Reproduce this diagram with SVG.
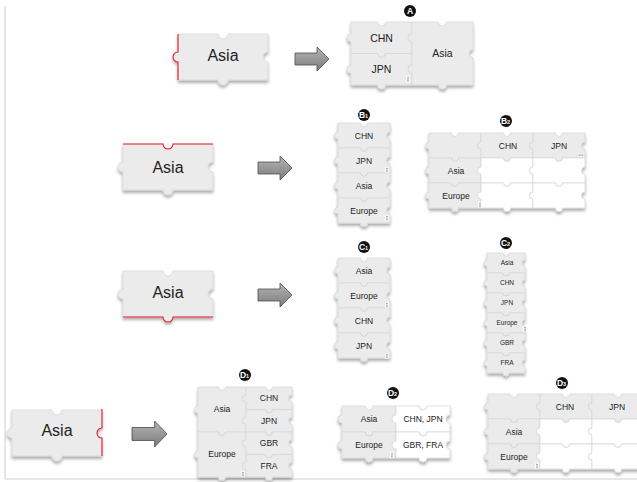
<svg xmlns="http://www.w3.org/2000/svg" xmlns:xlink="http://www.w3.org/1999/xlink" width="637" height="482" viewBox="0 0 637 482">
  <style>
    .g { fill: #ebebeb; stroke: #d6d6d6; stroke-width: 0.7; }
    .w { fill: #ffffff; stroke: #d6d6d6; stroke-width: 0.7; }
    .red { fill: none; stroke: #e8192c; stroke-width: 1.1; }
    .t { font-family: "Liberation Sans", Arial, sans-serif; fill: #222; text-anchor: middle; }
    .big { font-size: 16px; }
    .a { font-size: 10.5px; }
    .s { font-size: 8.5px; }
    .xs { font-size: 6.5px; }
    .badge { fill: #111; }
    .bt { font-family: "Liberation Sans", Arial, sans-serif; font-weight: bold; font-size: 8.5px; fill: #fff; text-anchor: middle; }
    .dot { fill: #333; }
    .arrow { fill: url(#arrowGrad); stroke: #4d4d4d; stroke-width: 0.8; }
    .frame { stroke: #cfcfcf; stroke-width: 1; fill: none; }
  </style>
  <defs>
    <filter id="shadow" x="-10%" y="-10%" width="120%" height="130%">
      <feDropShadow dx="0" dy="2.5" stdDeviation="1.4" flood-color="#000" flood-opacity="0.34"/>
    </filter>
    <linearGradient id="arrowGrad" x1="0" y1="0" x2="0" y2="1">
      <stop offset="0" stop-color="#b4b4b4"/>
      <stop offset="1" stop-color="#7c7c7c"/>
    </linearGradient>
    <!-- puzzle pieces: notch on top and right, tab on bottom and left -->
    <path id="pBig" d="M0 0 H40 A5 5 0 0 0 50 0 H90 V18 A5 5 0 0 0 90 28 V46 H50 A5 5 0 0 1 40 46 H0 V28 A5 5 0 0 1 0 18 Z"/>
    <path id="p52" d="M0 0 H22.5 A3.5 3.5 0 0 0 29.5 0 H52 V9 A3.5 3.5 0 0 0 52 16 V25 H29.5 A3.5 3.5 0 0 1 22.5 25 H0 V16 A3.5 3.5 0 0 1 0 9 Z"/>
    <path id="p61" d="M0 0 H26.5 A4 4 0 0 0 34.5 0 H61 V11.75 A4 4 0 0 0 61 19.75 V31.5 H34.5 A4 4 0 0 1 26.5 31.5 H0 V19.75 A4 4 0 0 1 0 11.75 Z"/>
    <path id="p61m" d="M0 0 H26.5 A4 4 0 0 0 34.5 0 H61 V27.5 A4 4 0 0 0 61 35.5 V63 H34.5 A4 4 0 0 1 26.5 63 H0 V51.25 A4 4 0 0 1 0 43.25 V19.75 A4 4 0 0 1 0 11.75 Z"/>
    <path id="p38" d="M0 0 H16 A3 3 0 0 0 22 0 H38 V7 A3 3 0 0 0 38 13 V20 H22 A3 3 0 0 1 16 20 H0 V13 A3 3 0 0 1 0 7 Z"/>
    <path id="p46" d="M0 0 H19.5 A3.5 3.5 0 0 0 26.5 0 H46 V7.75 A3.5 3.5 0 0 0 46 14.75 V22.5 H26.5 A3.5 3.5 0 0 1 19.5 22.5 H0 V14.75 A3.5 3.5 0 0 1 0 7.75 Z"/>
    <path id="p48m" d="M0 0 H20.5 A3.5 3.5 0 0 0 27.5 0 H48 V7.75 A3.5 3.5 0 0 0 48 14.75 V30.25 A3.5 3.5 0 0 0 48 37.25 V45 H27.5 A3.5 3.5 0 0 1 20.5 45 H0 V26 A3.5 3.5 0 0 1 0 19 Z"/>
    <path id="p54" d="M0 0 H23 A4 4 0 0 0 31 0 H54 V9 A4 4 0 0 0 54 17 V26 H31 A4 4 0 0 1 23 26 H0 V17 A4 4 0 0 1 0 9 Z"/>
    <path id="arr" d="M0 6 H22 V0 L34 12 L22 24 V18 H0 Z"/>
    <g id="vdots">
      <rect x="-1.8" y="-3" width="3.6" height="6" fill="#fff"/>
      <circle cx="0" cy="-1.8" r="0.55" class="dot"/>
      <circle cx="0" cy="0" r="0.55" class="dot"/>
      <circle cx="0" cy="1.8" r="0.55" class="dot"/>
    </g>
  </defs>

  <!-- page frame -->
  <path class="frame" d="M5 6 V479 H637"/>

  <!-- row A -->
  <g id="pieceA">
    <use xlink:href="#pBig" class="g" x="178" y="34" filter="url(#shadow)"/>
    <path class="red" transform="translate(178,34)" d="M0 0 V18 A5 5 0 0 0 0 28 V46"/>
    <text class="t big" x="223" y="60.5">Asia</text>
  </g>
  <g id="blockA">
    <g filter="url(#shadow)">
      <use xlink:href="#p61" class="g" x="351" y="22"/>
      <use xlink:href="#p61" class="g" x="351" y="53.5"/>
      <use xlink:href="#p61m" class="g" x="412" y="22"/>
    </g>
    <text class="t a" x="381.5" y="41.5">CHN</text>
    <text class="t a" x="381.5" y="73">JPN</text>
    <text class="t a" x="442.5" y="57">Asia</text>
    <use xlink:href="#vdots" x="408" y="79"/>
    <circle class="badge" cx="410" cy="11" r="6"/>
    <text class="bt" x="410" y="14">A</text>
  </g>

  <!-- row B -->
  <g id="pieceB">
    <use xlink:href="#pBig" class="g" x="123" y="144" filter="url(#shadow)"/>
    <path class="red" transform="translate(123,144)" d="M0 0 H40 A5 5 0 0 0 50 0 H90"/>
    <text class="t big" x="168" y="172.5">Asia</text>
  </g>
  <g id="blockB1">
    <g filter="url(#shadow)">
      <use xlink:href="#p52" class="g" x="338" y="123"/>
      <use xlink:href="#p52" class="g" x="338" y="148"/>
      <use xlink:href="#p52" class="g" x="338" y="173"/>
      <use xlink:href="#p52" class="g" x="338" y="198"/>
    </g>
    <text class="t s" x="364" y="138.5">CHN</text>
    <text class="t s" x="364" y="163.5">JPN</text>
    <text class="t s" x="364" y="188.5">Asia</text>
    <text class="t s" x="364" y="213.5">Europe</text>
    <use xlink:href="#vdots" x="387" y="170"/>
    <use xlink:href="#vdots" x="387" y="218"/>
    <circle class="badge" cx="364" cy="115" r="6"/>
    <text class="bt" x="363.5" y="118">B<tspan font-size="5.5">1</tspan></text>
  </g>
  <g id="blockB2">
    <g filter="url(#shadow)">
      <use xlink:href="#p52" class="g" x="429" y="133"/>
      <use xlink:href="#p52" class="g" x="481" y="133"/>
      <use xlink:href="#p52" class="g" x="533" y="133"/>
      <use xlink:href="#p52" class="g" x="429" y="158"/>
      <use xlink:href="#p52" class="w" x="481" y="158"/>
      <use xlink:href="#p52" class="w" x="533" y="158"/>
      <use xlink:href="#p52" class="g" x="429" y="183"/>
      <use xlink:href="#p52" class="w" x="481" y="183"/>
      <use xlink:href="#p52" class="w" x="533" y="183"/>
    </g>
    <text class="t s" x="508" y="148.5">CHN</text>
    <text class="t s" x="559" y="148.5">JPN</text>
    <text class="t s" x="456" y="173.5">Asia</text>
    <text class="t s" x="456" y="198.5">Europe</text>
    <g transform="translate(581,155)">
      <rect x="-3" y="-1.5" width="6" height="3" fill="#fff"/>
      <circle cx="-1.8" cy="0" r="0.55" class="dot"/>
      <circle cx="0" cy="0" r="0.55" class="dot"/>
      <circle cx="1.8" cy="0" r="0.55" class="dot"/>
    </g>
    <use xlink:href="#vdots" x="480" y="205"/>
    <circle class="badge" cx="506" cy="121" r="6"/>
    <text class="bt" x="505.5" y="124">B<tspan font-size="5.5">2</tspan></text>
  </g>

  <!-- row C -->
  <g id="pieceC">
    <use xlink:href="#pBig" class="g" x="123" y="271" filter="url(#shadow)"/>
    <path class="red" transform="translate(123,271)" d="M0 46 H40 A5 5 0 0 0 50 46 H90"/>
    <text class="t big" x="168" y="297.5">Asia</text>
  </g>
  <g id="blockC1">
    <g filter="url(#shadow)">
      <use xlink:href="#p52" class="g" x="338" y="258"/>
      <use xlink:href="#p52" class="g" x="338" y="283"/>
      <use xlink:href="#p52" class="g" x="338" y="308"/>
      <use xlink:href="#p52" class="g" x="338" y="333"/>
    </g>
    <text class="t s" x="364" y="273.5">Asia</text>
    <text class="t s" x="364" y="298.5">Europe</text>
    <text class="t s" x="364" y="323.5">CHN</text>
    <text class="t s" x="364" y="348.5">JPN</text>
    <use xlink:href="#vdots" x="387" y="305"/>
    <use xlink:href="#vdots" x="387" y="356"/>
    <circle class="badge" cx="364" cy="247" r="6"/>
    <text class="bt" x="363.5" y="250">C<tspan font-size="5.5">1</tspan></text>
  </g>
  <g id="blockC2">
    <g filter="url(#shadow)">
      <use xlink:href="#p38" class="g" x="487" y="253"/>
      <use xlink:href="#p38" class="g" x="487" y="273"/>
      <use xlink:href="#p38" class="g" x="487" y="293"/>
      <use xlink:href="#p38" class="g" x="487" y="313"/>
      <use xlink:href="#p38" class="g" x="487" y="333"/>
      <use xlink:href="#p38" class="g" x="487" y="353"/>
    </g>
    <text class="t xs" x="507" y="265.3">Asia</text>
    <text class="t xs" x="507" y="285.3">CHN</text>
    <text class="t xs" x="507" y="305.3">JPN</text>
    <text class="t xs" x="507" y="325.3">Europe</text>
    <text class="t xs" x="507" y="345.3">GBR</text>
    <text class="t xs" x="507" y="365.3">FRA</text>
    <use xlink:href="#vdots" x="525" y="329"/>
    <circle class="badge" cx="506" cy="243" r="6"/>
    <text class="bt" x="505.5" y="246">C<tspan font-size="5.5">2</tspan></text>
  </g>

  <!-- row D -->
  <g id="pieceD">
    <use xlink:href="#pBig" class="g" x="12" y="410" filter="url(#shadow)"/>
    <path class="red" transform="translate(12,410)" d="M90 -1 V18 A5 5 0 0 0 90 28 V46"/>
    <text class="t big" x="57" y="436">Asia</text>
  </g>
  <g id="blockD1">
    <g filter="url(#shadow)">
      <use xlink:href="#p48m" class="g" x="198" y="387"/>
      <use xlink:href="#p48m" class="g" x="198" y="432"/>
      <use xlink:href="#p46" class="g" x="246" y="387"/>
      <use xlink:href="#p46" class="g" x="246" y="409.5"/>
      <use xlink:href="#p46" class="g" x="246" y="432"/>
      <use xlink:href="#p46" class="g" x="246" y="454.5"/>
    </g>
    <text class="t s" x="222" y="411.5">Asia</text>
    <text class="t s" x="222" y="456.5">Europe</text>
    <text class="t s" x="269" y="401">CHN</text>
    <text class="t s" x="269" y="423.5">JPN</text>
    <text class="t s" x="269" y="446">GBR</text>
    <text class="t s" x="269" y="468.5">FRA</text>
    <use xlink:href="#vdots" x="243" y="474"/>
    <circle class="badge" cx="245" cy="375" r="6"/>
    <text class="bt" x="244.5" y="378">D<tspan font-size="5.5">1</tspan></text>
  </g>
  <g id="blockD2">
    <g filter="url(#shadow)">
      <use xlink:href="#p54" class="g" x="342" y="406"/>
      <use xlink:href="#p54" class="w" x="396" y="406"/>
      <use xlink:href="#p54" class="g" x="342" y="432"/>
      <use xlink:href="#p54" class="w" x="396" y="432"/>
    </g>
    <text class="t s" x="369" y="422">Asia</text>
    <text class="t s" x="423" y="422">CHN, JPN</text>
    <text class="t s" x="369" y="448">Europe</text>
    <text class="t s" x="423" y="448">GBR, FRA</text>
    <use xlink:href="#vdots" x="392" y="455"/>
    <circle class="badge" cx="393" cy="393" r="6"/>
    <text class="bt" x="392.5" y="396">D<tspan font-size="5.5">2</tspan></text>
  </g>
  <g id="blockD3">
    <g filter="url(#shadow)">
      <use xlink:href="#p52" class="g" x="488" y="394"/>
      <use xlink:href="#p52" class="g" x="540" y="394"/>
      <use xlink:href="#p52" class="g" x="592" y="394"/>
      <use xlink:href="#p52" class="g" x="488" y="419"/>
      <use xlink:href="#p52" class="w" x="540" y="419"/>
      <use xlink:href="#p52" class="w" x="592" y="419"/>
      <use xlink:href="#p52" class="g" x="488" y="444"/>
      <use xlink:href="#p52" class="w" x="540" y="444"/>
      <use xlink:href="#p52" class="w" x="592" y="444"/>
    </g>
    <text class="t s" x="565" y="409.5">CHN</text>
    <text class="t s" x="617" y="409.5">JPN</text>
    <text class="t s" x="514" y="434.5">Asia</text>
    <text class="t s" x="514" y="459.5">Europe</text>
    <use xlink:href="#vdots" x="537" y="466"/>
    <circle class="badge" cx="562" cy="383" r="6"/>
    <text class="bt" x="561.5" y="386">D<tspan font-size="5.5">3</tspan></text>
  </g>

  <!-- transformation arrows -->
  <g id="connectors">
    <use xlink:href="#arr" class="arrow" transform="translate(295,47)"/>
    <use xlink:href="#arr" class="arrow" transform="translate(258,156)"/>
    <use xlink:href="#arr" class="arrow" transform="translate(258,283)"/>
    <use xlink:href="#arr" class="arrow" transform="translate(132,421) scale(1.03,1.08)"/>
  </g>
</svg>
